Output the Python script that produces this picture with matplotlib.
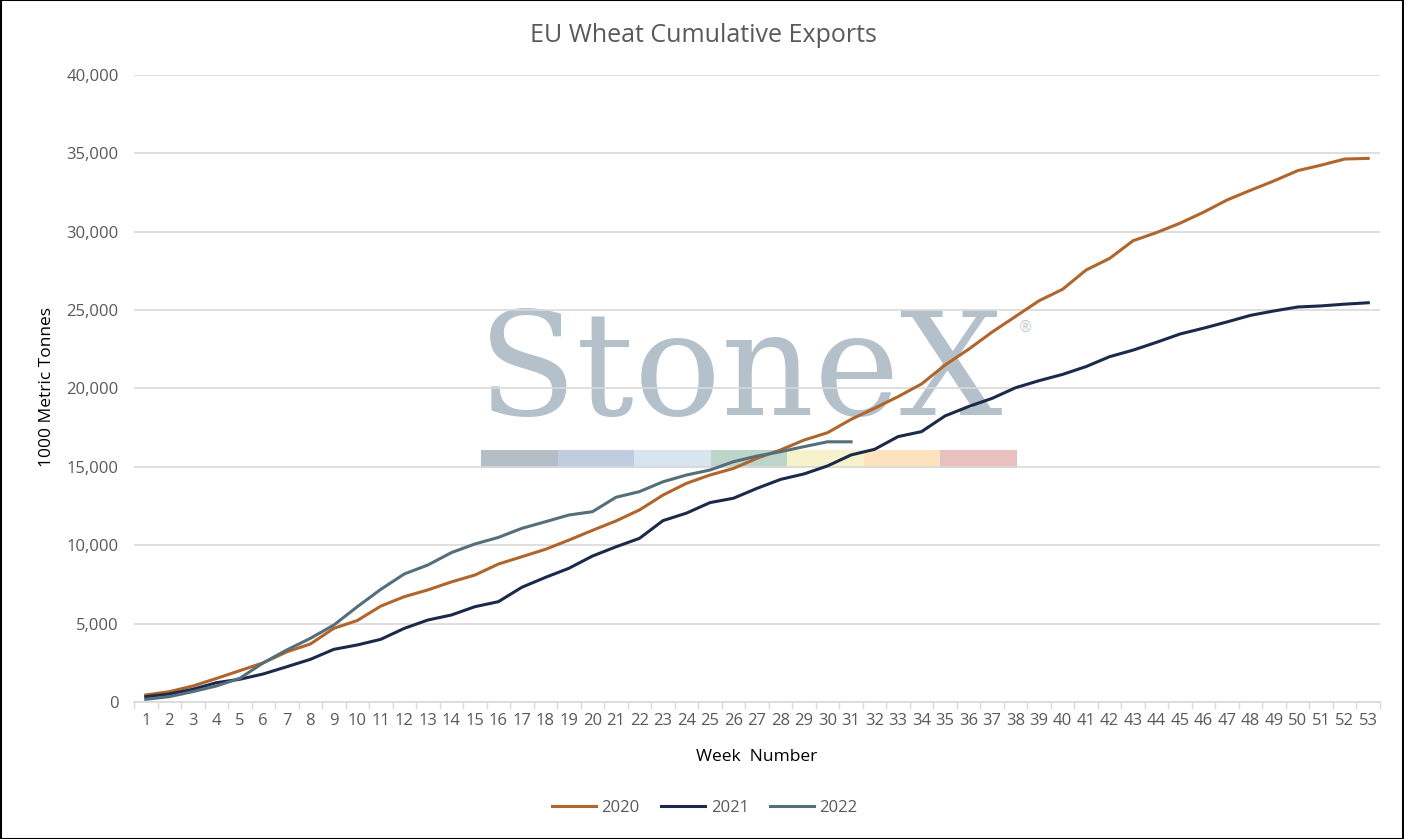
from matplotlib import pyplot as plt
from matplotlib.patches import Rectangle
from matplotlib.ticker import FuncFormatter, MultipleLocator
import numpy as np

# weekly cumulative exports, 1000 metric tonnes
weeks = list(range(1, 54))
exports_2020 = [450, 660, 1020, 1500, 2000, 2500, 3200, 3700, 4700, 5200,
                6120, 6720, 7150, 7660, 8100, 8800, 9270, 9740, 10330, 10950,
                11550, 12250, 13200, 13950, 14480, 14900, 15550, 16080, 16710, 17180,
                18030, 18740, 19480, 20290, 21500, 22500, 23600, 24600, 25600, 26330,
                27560, 28300, 29430, 29950, 30550, 31250, 32030, 32650, 33250, 33900,
                34250, 34640, 34680]
exports_2021 = [340, 510, 810, 1230, 1450, 1790, 2250, 2720, 3360, 3640,
                4000, 4700, 5230, 5550, 6080, 6400, 7320, 7950, 8530, 9310,
                9900, 10440, 11570, 12050, 12720, 13000, 13630, 14200, 14550, 15060,
                15760, 16120, 16930, 17250, 18250, 18850, 19370, 20050, 20500, 20900,
                21400, 22030, 22450, 22950, 23480, 23850, 24250, 24670, 24950, 25200,
                25270, 25380, 25470]
exports_2022 = [170, 340, 660, 1020, 1510, 2500, 3320, 4060, 4910, 6080,
                7190, 8170, 8740, 9530, 10080, 10500, 11080, 11500, 11930, 12140,
                13060, 13420, 14050, 14480, 14800, 15330, 15690, 15970, 16290, 16600,
                16600]

W, H = 1404, 839
fig = plt.figure(figsize=(W / 100, H / 100), dpi=100)
plt.rcParams['font.family'] = ['Open Sans', 'DejaVu Sans']

ax = fig.add_axes([134 / W, 1 - 702 / H, (1380 - 134) / W, (702 - 75) / H])
ax.set_axisbelow(True)


def fx(px):
    return px / W


def fy(py):
    return 1 - py / H


# watermark behind the grid
ax.text(fx(741), fy(415), 'StoneX', transform=fig.transFigure, family='DejaVu Serif',
        fontsize=104, color='#b4c0ca', ha='center', va='baseline',
        zorder=0.1, clip_on=False)
ax.text(fx(1026), fy(327), '®', transform=fig.transFigure, family='DejaVu Sans',
        fontsize=11, color='#c4ccd4', ha='center', va='center', zorder=0.1, clip_on=False)
strip_colors = ['#b4bec6', '#c0cce0', '#d7e5f0', '#bdd5c9', '#f6f2cb', '#fce3bd', '#e8c0c0']
seg = (1017 - 481) / len(strip_colors)
for i, c in enumerate(strip_colors):
    ax.add_patch(Rectangle((fx(481 + i * seg), fy(468)), seg / W, 18 / H, transform=fig.transFigure,
                           facecolor=c, edgecolor='none', zorder=0.1, clip_on=False))

ax.plot(weeks, exports_2020, color='#b0652c', lw=2.2, label='2020', zorder=3)
ax.plot(weeks, exports_2021, color='#1b2a4a', lw=2.2, label='2021', zorder=3)
ax.plot(weeks[:len(exports_2022)], exports_2022, color='#546e7a', lw=2.2, label='2022', zorder=3)

ax.set_xlim(0.5, 53.5)
ax.set_ylim(0, 40000)
ax.yaxis.set_major_locator(MultipleLocator(5000))
ax.yaxis.set_major_formatter(FuncFormatter(lambda v, p: f'{int(v):,}'))
ax.set_xticks(weeks)
ax.set_xticks(np.arange(0.5, 54, 1), minor=True)
ax.tick_params(axis='x', which='major', length=0, labelsize=12, labelcolor='#595959', pad=8)
ax.tick_params(axis='x', which='minor', length=5, color='#d9d9d9', width=1)
ax.tick_params(axis='y', length=0, labelsize=12, labelcolor='#595959', pad=11)
ax.grid(axis='y', color='#d9d9d9', lw=1.2)
for s in ['top', 'right', 'left']:
    ax.spines[s].set_visible(False)
ax.spines['bottom'].set_color('#d9d9d9')
ax.spines['bottom'].set_linewidth(1.2)

fig.text(fx(703), fy(36), 'EU Wheat Cumulative Exports', ha='center', va='center',
         fontsize=18, color='#595959')
fig.text(fx(757), fy(757), 'Week  Number', ha='center', va='center', fontsize=12.5, color='black')
fig.text(fx(47), fy(387), '1000 Metric Tonnes', ha='center', va='center', rotation=90,
         fontsize=12.5, color='black')

ax.legend(loc='center', bbox_to_anchor=(fx(705), fy(808)), bbox_transform=fig.transFigure,
          ncol=3, frameon=False, fontsize=12, handlelength=2.6, columnspacing=1.3,
          handletextpad=0.35, labelcolor='#595959')

fig.add_artist(Rectangle((0.0005, 0.0005), 0.999, 0.999, transform=fig.transFigure,
                         fill=False, edgecolor='black', lw=1.5))

fig.savefig('out.png', dpi=100)
